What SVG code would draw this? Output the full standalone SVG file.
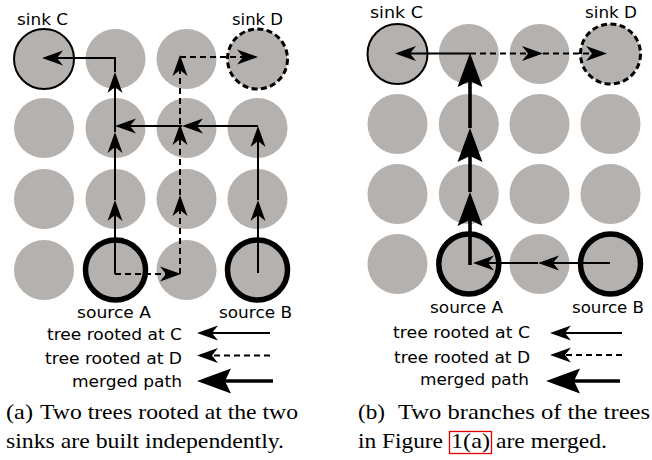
<svg xmlns="http://www.w3.org/2000/svg" width="652" height="460" viewBox="0 0 652 460">
  <style>
    .cell { fill: #b4b1af; }
    .sinkC { stroke: #000; stroke-width: 2; }
    .sinkD { stroke: #000; stroke-width: 3; stroke-dasharray: 6 3.4; }
    .source { stroke: #000; stroke-width: 5.5; }
    .lbl { font-family: "DejaVu Sans", sans-serif; font-size: 16px; fill: #000; }
    .cap { font-family: "Liberation Serif", "Times New Roman", serif; font-size: 21px; fill: #000; }
    .thin { fill: none; stroke: #000; stroke-width: 2; marker-end: url(#head); }
    .dash { fill: none; stroke: #000; stroke-width: 2; stroke-dasharray: 6 4; marker-end: url(#head); }
    .merged { fill: none; stroke: #000; stroke-width: 3.6; marker-end: url(#bighead); }
  </style>
  <defs>
    <!-- notched arrowheads; the notch sits on the path end, the tip lies beyond it -->
    <marker id="head" markerUnits="userSpaceOnUse" orient="auto" refX="0" refY="0" markerWidth="40" markerHeight="40" overflow="visible">
      <path d="M0,0 L-6,-7.5 L15,0 L-6,7.5 Z" fill="#000" stroke="none"/>
    </marker>
    <marker id="bighead" markerUnits="userSpaceOnUse" orient="auto" refX="0" refY="0" markerWidth="60" markerHeight="60" overflow="visible">
      <path d="M0,0 L-6,-12.5 L28,0 L-6,12.5 Z" fill="#000" stroke="none"/>
    </marker>
  </defs>

  <!-- ===== panel (a) ===== -->
  <g id="a-r1c1"><circle class="cell sinkC" cx="44" cy="59" r="30"/><text class="lbl" x="17" y="24.5" textLength="51" lengthAdjust="spacingAndGlyphs">sink C</text></g>
  <g id="a-r1c2"><circle class="cell" cx="115.5" cy="59" r="30"/></g>
  <g id="a-r1c3"><circle class="cell" cx="186.5" cy="59" r="30"/></g>
  <g id="a-r1c4"><circle class="cell sinkD" cx="257.5" cy="59" r="30"/><text class="lbl" x="232" y="24.5" textLength="51" lengthAdjust="spacingAndGlyphs">sink D</text></g>
  <g id="a-r2c1"><circle class="cell" cx="44" cy="128" r="30"/></g>
  <g id="a-r2c2"><circle class="cell" cx="115.5" cy="128" r="30"/></g>
  <g id="a-r2c3"><circle class="cell" cx="186.5" cy="128" r="30"/></g>
  <g id="a-r2c4"><circle class="cell" cx="257.5" cy="128" r="30"/></g>
  <g id="a-r3c1"><circle class="cell" cx="44" cy="199" r="30"/></g>
  <g id="a-r3c2"><circle class="cell" cx="115.5" cy="199" r="30"/></g>
  <g id="a-r3c3"><circle class="cell" cx="186.5" cy="199" r="30"/></g>
  <g id="a-r3c4"><circle class="cell" cx="257.5" cy="199" r="30"/></g>
  <g id="a-r4c1"><circle class="cell" cx="44" cy="270" r="30"/></g>
  <g id="a-r4c2"><circle class="cell source" cx="115.5" cy="270" r="30"/><text class="lbl" x="77" y="318" textLength="74" lengthAdjust="spacingAndGlyphs">source A</text></g>
  <g id="a-r4c3"><circle class="cell" cx="186.5" cy="270" r="30"/></g>
  <g id="a-r4c4"><circle class="cell source" cx="257.5" cy="270" r="30"/><text class="lbl" x="219" y="318" textLength="73" lengthAdjust="spacingAndGlyphs">source B</text></g>

  <g id="a-connectors">
    <!-- tree rooted at C -->
    <path class="thin" d="M115,274 V215"/>
    <path class="thin" d="M115,200 V147"/>
    <path class="thin" d="M115,132 V87"/>
    <path class="thin" d="M115,72 V58 H57"/>
    <path class="thin" d="M258,273 V215"/>
    <path class="thin" d="M258,200 V141"/>
    <path class="thin" d="M258,126 H197"/>
    <path class="thin" d="M182,126 H130"/>
    <!-- tree rooted at D -->
    <path class="dash" d="M115,274 H166"/>
    <path class="dash" d="M180,274 V210"/>
    <path class="dash" d="M180,195 V139"/>
    <path class="dash" d="M180,124 V70"/>
    <path class="dash" d="M180,57 H243"/>
  </g>

  <g id="a-legend">
    <text class="lbl" x="47" y="340" textLength="135" lengthAdjust="spacingAndGlyphs">tree rooted at C</text>
    <text class="lbl" x="45" y="364" textLength="137" lengthAdjust="spacingAndGlyphs">tree rooted at D</text>
    <text class="lbl" x="72" y="387" textLength="110" lengthAdjust="spacingAndGlyphs">merged path</text>
    <path class="thin" d="M270,333 H212"/>
    <path class="dash" d="M270,355.5 H212"/>
    <path class="merged" d="M273,381 H225"/>
  </g>

  <g id="a-caption">
    <text class="cap" x="6" y="419" textLength="27" lengthAdjust="spacingAndGlyphs">(a)</text>
    <text class="cap" x="40" y="419" textLength="258" lengthAdjust="spacingAndGlyphs">Two trees rooted at the two</text>
    <text class="cap" x="6" y="448" textLength="278" lengthAdjust="spacingAndGlyphs">sinks are built independently.</text>
  </g>

  <!-- ===== panel (b) ===== -->
  <g id="b-r1c1"><circle class="cell sinkC" cx="397.5" cy="54" r="30"/><text class="lbl" x="370" y="18" textLength="53" lengthAdjust="spacingAndGlyphs">sink C</text></g>
  <g id="b-r1c2"><circle class="cell" cx="468.8" cy="54" r="30"/></g>
  <g id="b-r1c3"><circle class="cell" cx="539.5" cy="54" r="30"/></g>
  <g id="b-r1c4"><circle class="cell sinkD" cx="610.5" cy="54" r="30"/><text class="lbl" x="585" y="18" textLength="52" lengthAdjust="spacingAndGlyphs">sink D</text></g>
  <g id="b-r2c1"><circle class="cell" cx="397.5" cy="124" r="30"/></g>
  <g id="b-r2c2"><circle class="cell" cx="468.8" cy="124" r="30"/></g>
  <g id="b-r2c3"><circle class="cell" cx="539.5" cy="124" r="30"/></g>
  <g id="b-r2c4"><circle class="cell" cx="610.5" cy="124" r="30"/></g>
  <g id="b-r3c1"><circle class="cell" cx="397.5" cy="194" r="30"/></g>
  <g id="b-r3c2"><circle class="cell" cx="468.8" cy="194" r="30"/></g>
  <g id="b-r3c3"><circle class="cell" cx="539.5" cy="194" r="30"/></g>
  <g id="b-r3c4"><circle class="cell" cx="610.5" cy="194" r="30"/></g>
  <g id="b-r4c1"><circle class="cell" cx="397.5" cy="264" r="30"/></g>
  <g id="b-r4c2"><circle class="cell source" cx="468.8" cy="264" r="30"/><text class="lbl" x="430" y="313" textLength="73" lengthAdjust="spacingAndGlyphs">source A</text></g>
  <g id="b-r4c3"><circle class="cell" cx="539.5" cy="264" r="30"/></g>
  <g id="b-r4c4"><circle class="cell source" cx="610.5" cy="264" r="30"/><text class="lbl" x="572" y="313" textLength="72" lengthAdjust="spacingAndGlyphs">source B</text></g>

  <g id="b-connectors">
    <!-- merged branch -->
    <path class="merged" d="M470,265 V220"/>
    <path class="merged" d="M470,192 V156"/>
    <path class="merged" d="M470,128 V81"/>
    <!-- towards sink C -->
    <path class="thin" d="M470,53.5 H410"/>
    <!-- towards sink D -->
    <path class="dash" d="M470,53.5 H528"/>
    <path class="dash" d="M543,53.5 H592"/>
    <!-- from source B -->
    <path class="thin" d="M610,263 H553"/>
    <path class="thin" d="M538,263 H488"/>
  </g>

  <g id="b-legend">
    <text class="lbl" x="393" y="338" textLength="137" lengthAdjust="spacingAndGlyphs">tree rooted at C</text>
    <text class="lbl" x="394" y="363" textLength="136" lengthAdjust="spacingAndGlyphs">tree rooted at D</text>
    <text class="lbl" x="420" y="385" textLength="109" lengthAdjust="spacingAndGlyphs">merged path</text>
    <path class="thin" d="M622,333 H565"/>
    <path class="dash" d="M622,355 H565"/>
    <path class="merged" d="M620,381 H574"/>
  </g>

  <g id="b-caption">
    <text class="cap" x="358" y="419" textLength="27" lengthAdjust="spacingAndGlyphs">(b)</text>
    <text class="cap" x="398" y="419" textLength="252" lengthAdjust="spacingAndGlyphs">Two branches of the trees</text>
    <text class="cap" x="358" y="448" textLength="85" lengthAdjust="spacingAndGlyphs">in Figure</text>
    <text class="cap" x="451" y="448" textLength="39" lengthAdjust="spacingAndGlyphs">1(a)</text>
    <text class="cap" x="496" y="448" textLength="111" lengthAdjust="spacingAndGlyphs">are merged.</text>
    <rect x="449.5" y="431.5" width="42" height="22" fill="none" stroke="#e00000" stroke-width="1.3"/>
  </g>
</svg>
